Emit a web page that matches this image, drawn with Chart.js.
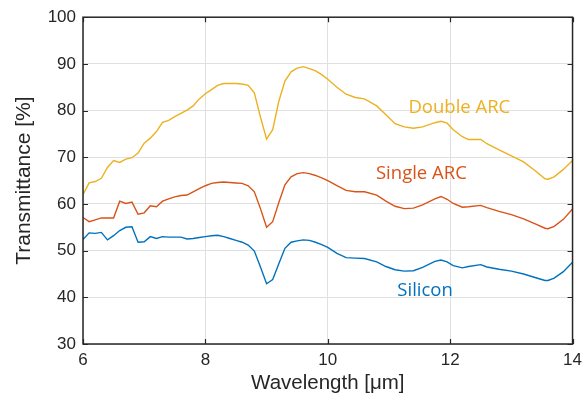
<!DOCTYPE html>
<html>
<head>
<meta charset="utf-8">
<script src="https://cdn.jsdelivr.net/npm/chart.js@4/dist/chart.umd.min.js"></script>
<style>
html,body{margin:0;padding:0;background:#fff;}
#wrap{width:588px;height:398px;}
</style>
</head>
<body>
<div id="wrap"><canvas id="c" width="588" height="398"></canvas></div>
<script>
// Wavelength samples [µm]
const wavelength = [6.0,6.1,6.2,6.3,6.4,6.5,6.6,6.7,6.8,6.9,7.0,7.1,7.2,7.3,7.4,7.5,7.6,7.7,7.8,7.9,
  8.0,8.1,8.2,8.3,8.4,8.5,8.6,8.7,8.8,8.9,9.0,9.1,9.2,9.3,9.4,9.5,9.6,9.7,9.8,9.9,
  10.0,10.15,10.3,10.45,10.6,10.8,10.95,11.1,11.25,11.4,11.55,11.75,11.85,11.95,12.05,12.2,12.3,12.5,12.6,12.8,
  13.0,13.2,13.4,13.55,13.6,13.7,13.85,14.0];

const doubleARC = [62.0,64.5,64.8,65.5,67.8,69.3,68.9,69.6,69.9,70.9,73.0,74.1,75.5,77.5,77.9,78.7,79.4,80.1,81.0,82.5,
  83.6,84.5,85.4,85.8,85.8,85.8,85.7,85.4,83.8,78.6,73.9,75.9,82.0,86.3,88.3,89.1,89.4,89.0,88.5,87.7,
  86.7,85.0,83.5,82.8,82.5,81.0,79.1,77.2,76.5,76.2,76.5,77.4,77.7,77.3,75.9,74.4,73.8,73.8,72.9,71.6,
  70.3,69.0,67.0,65.4,65.3,65.8,67.4,69.3];

const singleARC = [57.1,56.2,56.6,57.0,57.0,57.0,60.6,60.1,60.4,57.8,58.1,59.6,59.4,60.6,61.1,61.5,61.8,61.9,62.6,63.3,
  63.9,64.4,64.6,64.7,64.6,64.5,64.4,63.9,62.6,59.0,55.0,56.2,60.3,64.1,65.8,66.5,66.7,66.5,66.1,65.6,
  65.0,63.9,62.9,62.6,62.6,61.9,60.6,59.5,59.0,59.1,59.8,61.1,61.6,61.0,60.1,59.3,59.4,59.7,59.2,58.4,
  57.7,56.8,55.7,54.8,54.7,55.2,56.7,58.9];

const silicon = [52.4,53.8,53.7,53.9,52.3,53.2,54.3,55.0,55.1,51.8,51.9,53.0,52.6,53.0,52.9,52.9,52.9,52.5,52.6,52.8,
  53.0,53.2,53.3,53.0,52.6,52.2,51.8,51.2,49.9,46.5,42.9,43.8,47.2,50.5,51.8,52.1,52.3,52.2,51.8,51.3,
  50.7,49.4,48.5,48.4,48.3,47.6,46.6,45.9,45.6,45.7,46.4,47.7,48.0,47.6,46.8,46.3,46.6,47.0,46.5,46.0,
  45.6,45.0,44.2,43.6,43.6,44.1,45.5,47.5];

const seriesNames = ["Double ARC","Single ARC","Silicon"];
const seriesColors = ["#EDB120","#D95319","#0072BD"];
// label anchor positions in data units (x, y)
const labelX = [12.15, 11.53, 11.59];
const labelY = [79.4, 65.3, 40.2];

const xTicks = [6,8,10,12,14];
const yTicks = [30,40,50,60,70,80,90,100];

function pts(ys){ return wavelength.map((x,i)=>({x:x,y:ys[i]})); }
const allSeries = [doubleARC, singleARC, silicon];

const boxPlugin = {
  id:'boxTicks',
  afterDatasetsDraw(chart){
    const ctx = chart.ctx, a = chart.chartArea;
    const xs = chart.scales.x, ys = chart.scales.y;
    ctx.save();
    ctx.strokeStyle = '#262626';
    ctx.lineWidth = 1.5;
    ctx.strokeRect(a.left, a.top, a.right-a.left, a.bottom-a.top);
    ctx.lineWidth = 1.2;
    const L = 5;
    ctx.beginPath();
    xTicks.forEach(v=>{
      const p = Math.round(xs.getPixelForValue(v))+0.5;
      ctx.moveTo(p,a.bottom); ctx.lineTo(p,a.bottom-L);
      ctx.moveTo(p,a.top); ctx.lineTo(p,a.top+L);
    });
    yTicks.forEach(v=>{
      const p = Math.round(ys.getPixelForValue(v))+0.5;
      ctx.moveTo(a.left,p); ctx.lineTo(a.left+L,p);
      ctx.moveTo(a.right,p); ctx.lineTo(a.right-L,p);
    });
    ctx.stroke();
    // series labels
    ctx.font = '18.5px "Open Sans", sans-serif';
    ctx.textAlign = 'center';
    ctx.textBaseline = 'alphabetic';
    seriesNames.forEach((n,i)=>{
      ctx.fillStyle = seriesColors[i];
      ctx.fillText(n, xs.getPixelForValue(labelX[i]), ys.getPixelForValue(labelY[i]));
    });
    ctx.restore();
  }
};

new Chart(document.getElementById('c'), {
  type:'line',
  data:{
    datasets: allSeries.map((s,i)=>({
      label: seriesNames[i],
      data: pts(s),
      borderColor: seriesColors[i],
      backgroundColor: seriesColors[i],
      borderWidth: 1.4,
      pointRadius: 0,
      tension: 0,
      fill: false
    }))
  },
  options:{
    responsive:false,
    animation:false,
    layout:{padding:{left:0,right:14,top:15,bottom:0}},
    plugins:{legend:{display:false},tooltip:{enabled:false}},
    scales:{
      x:{
        type:'linear', min:6, max:14,
        afterBuildTicks(s){ s.ticks = xTicks.map(v=>({value:v})); },
        afterFit(s){ s.height = 54; },
        grid:{color:'#e0e0e0', lineWidth:1, drawTicks:false},
        border:{display:false},
        ticks:{color:'#262626', font:{family:'"Liberation Sans", Arial, sans-serif', size:17}, padding:6, maxRotation:0},
        title:{display:true, text:'Wavelength [μm]', color:'#262626', font:{family:'"Liberation Sans", Arial, sans-serif', size:20.5}, padding:{top:0,bottom:2}}
      },
      y:{
        type:'linear', min:30, max:100,
        afterBuildTicks(s){ s.ticks = yTicks.map(v=>({value:v})); },
        afterFit(s){ s.width = 83; },
        grid:{color:'#e0e0e0', lineWidth:1, drawTicks:false},
        border:{display:false},
        ticks:{color:'#262626', font:{family:'"Liberation Sans", Arial, sans-serif', size:17}, padding:7},
        title:{display:true, text:'Transmittance [%]', color:'#262626', font:{family:'"Liberation Sans", Arial, sans-serif', size:21}, padding:{top:12,bottom:0}}
      }
    }
  },
  plugins:[boxPlugin]
});
</script>
</body>
</html>
